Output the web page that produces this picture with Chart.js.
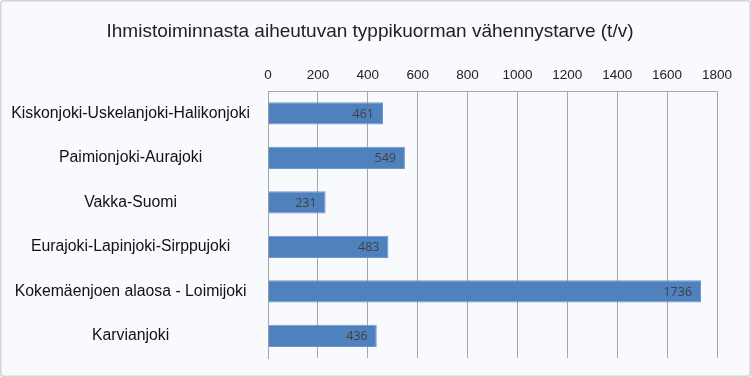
<!DOCTYPE html>
<html>
<head>
<meta charset="utf-8">
<script src="https://cdn.jsdelivr.net/npm/chart.js@4/dist/chart.umd.min.js"></script>
<style>
  html, body { margin: 0; padding: 0; background: #ffffff; }
  #wrap { width: 751px; height: 377px; position: relative; }
</style>
</head>
<body>
<div id="wrap"><canvas id="typpi-chart"></canvas></div>
<script>
const CHART_TITLE = 'Ihmistoiminnasta aiheutuvan typpikuorman vähennystarve (t/v)';
const categories = [
  'Kiskonjoki-Uskelanjoki-Halikonjoki',
  'Paimionjoki-Aurajoki',
  'Vakka-Suomi',
  'Eurajoki-Lapinjoki-Sirppujoki',
  'Kokemäenjoen alaosa - Loimijoki',
  'Karvianjoki',
];
const reductionValues = [461, 549, 231, 483, 1736, 436];
const xTickMin = 0;
const xTickMax = 1800;
const xTickStep = 200;

const BAR_COLOR = '#4F81BD';
const GRID_COLOR = '#a6a6a6';
const FONT = '"Liberation Sans", Arial, sans-serif';

// background, rounded frame and the title (centred on the page, not the plot)
const frameAndTitle = {
  id: 'frameAndTitle',
  beforeDraw(chart) {
    const ctx = chart.ctx;
    ctx.save();
    ctx.fillStyle = '#f9fafd';
    ctx.fillRect(0, 0, chart.width, chart.height);
    ctx.strokeStyle = '#d4d4d4';
    ctx.lineWidth = 1.5;
    ctx.beginPath();
    ctx.roundRect(0.75, 0.75, chart.width - 1.5, chart.height - 1.5, 3);
    ctx.stroke();
    ctx.font = '19px ' + FONT;
    ctx.fillStyle = '#222222';
    ctx.textAlign = 'center';
    ctx.textBaseline = 'middle';
    ctx.fillText(CHART_TITLE, 370, 32);
    ctx.restore();
  }
};

// value labels at inner end of bars
const barValueLabels = {
  id: 'barValueLabels',
  afterDatasetsDraw(chart) {
    const ctx = chart.ctx;
    const meta = chart.getDatasetMeta(0);
    ctx.save();
    ctx.font = '12.5px "Open Sans", sans-serif';
    ctx.fillStyle = '#404040';
    ctx.textAlign = 'right';
    ctx.textBaseline = 'middle';
    meta.data.forEach((bar, i) => {
      ctx.fillText(String(chart.data.datasets[0].data[i]), bar.x - 9, bar.y + 1);
    });
    ctx.restore();
  }
};

const typpiConfig = {
  type: 'bar',
  data: {
    labels: categories,
    datasets: [{
      data: reductionValues,
      backgroundColor: BAR_COLOR,
      borderColor: '#6f97cb',
      borderWidth: 1,
      categoryPercentage: 1,
      barPercentage: 0.5,
    }],
  },
  options: {
    indexAxis: 'y',
    responsive: true,
    maintainAspectRatio: false,
    animation: false,
    layout: {
      padding: { left: 0, right: 34, top: 59, bottom: 19 },
    },
    plugins: {
      legend: { display: false },
      tooltip: { enabled: false },
      title: { display: false },
    },
    scales: {
      x: {
        position: 'top',
        min: xTickMin,
        max: xTickMax,
        grid: {
          color: GRID_COLOR,
          lineWidth: 1,
          drawTicks: false,
        },
        border: { display: true, color: GRID_COLOR, width: 1 },
        ticks: {
          stepSize: xTickStep,
          color: '#222222',
          padding: 8,
          font: { family: FONT, size: 13.5 },
          callback: (value) => String(value),
        },
      },
      y: {
        grid: { display: false, drawTicks: false },
        border: { display: true, color: GRID_COLOR, width: 1 },
        afterFit(scale) {
          scale.width = 268;
          scale.paddingTop = 0;
          scale.paddingBottom = 0;
        },
        ticks: {
          crossAlign: 'center',
          padding: 18,
          color: '#111111',
          font: { family: FONT, size: 15.8 },
        },
      },
    },
  },
  plugins: [frameAndTitle, barValueLabels],
};

const typpiCanvas = document.getElementById('typpi-chart');
let typpiChart = new Chart(typpiCanvas, typpiConfig);
</script>
</body>
</html>
